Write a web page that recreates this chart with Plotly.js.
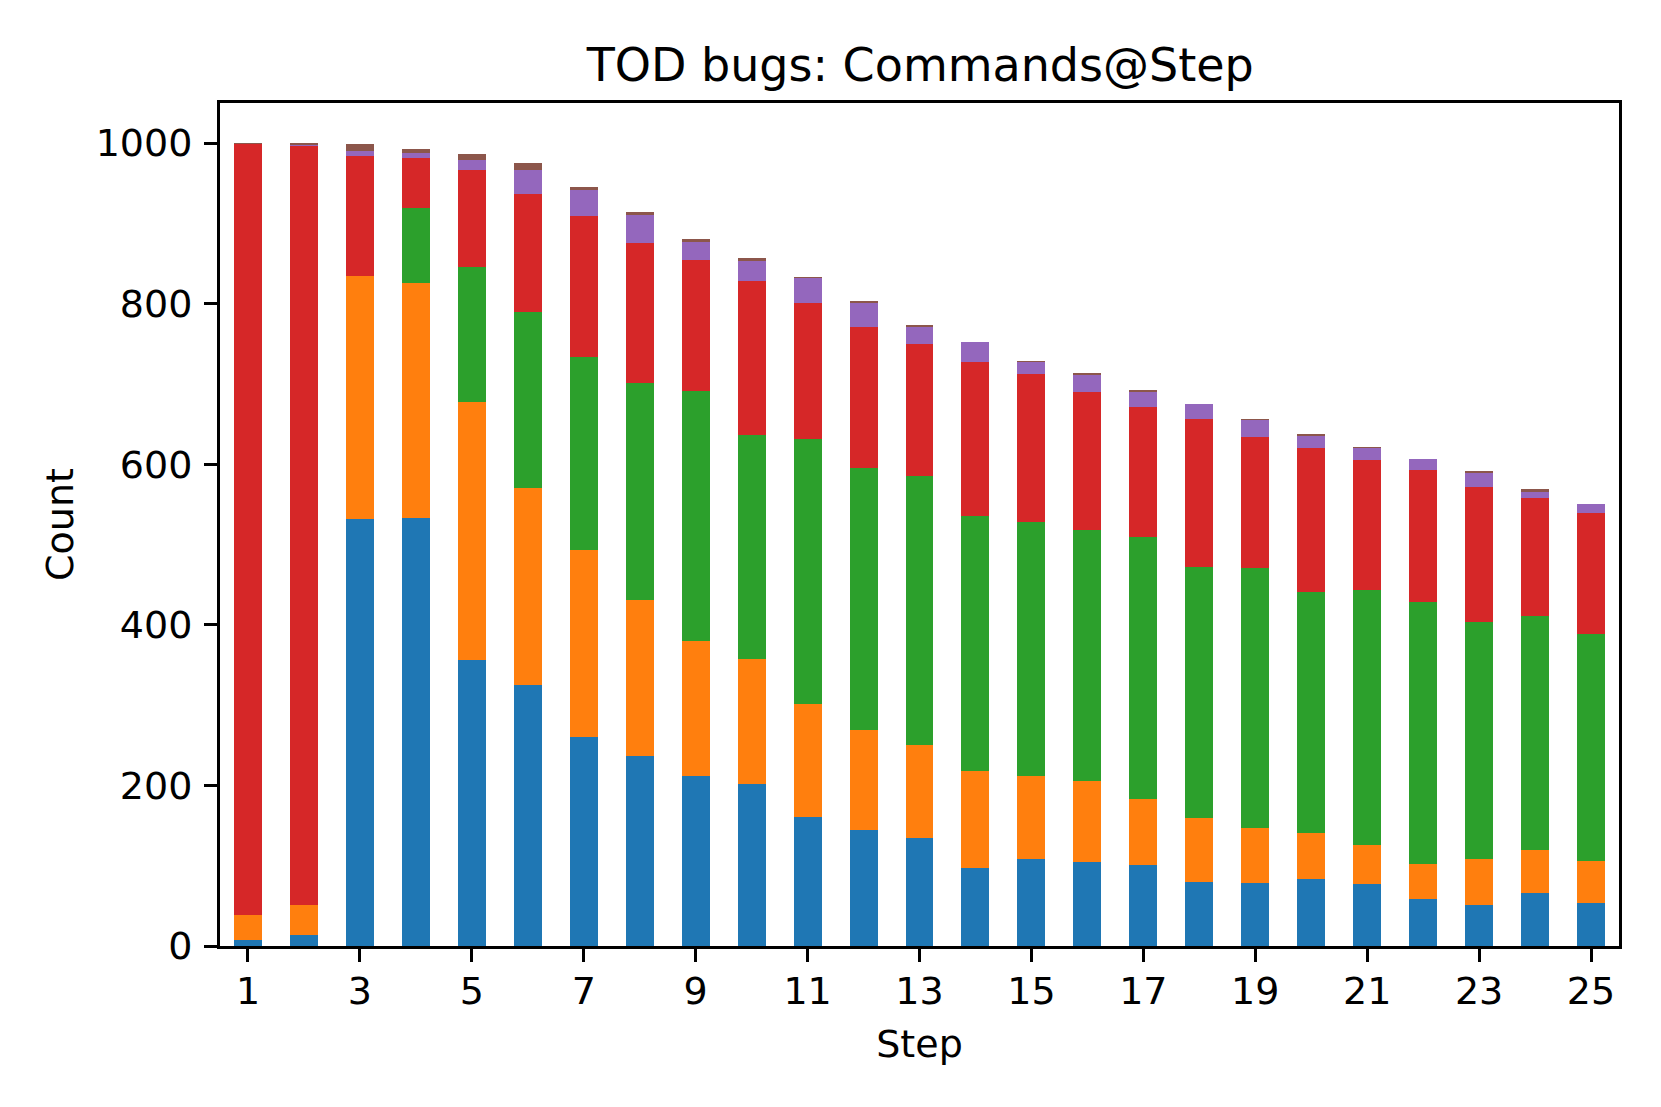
<!DOCTYPE html>
<html>
<head>
<meta charset="utf-8">
<script src="https://cdn.plot.ly/plotly-3.0.1.min.js"></script>
<style>html,body{margin:0;padding:0;background:#fff;}#chart{width:1661px;height:1107px;}</style>
</head>
<body>
<div id="chart"></div>
<script>
// Steps (x categories)
const steps = [1,2,3,4,5,6,7,8,9,10,11,12,13,14,15,16,17,18,19,20,21,22,23,24,25];
const tickSteps = [1,3,5,7,9,11,13,15,17,19,21,23,25];

// Stacked series (bottom to top), counts
const cmdA = [7,14,532,533,356,325,260,237,212,202,161,145,135,97,108,105,101,80,78,84,77,58,51,66,54];
const cmdB = [32,37,302,293,322,245,233,194,168,156,141,124,115,121,104,100,82,80,69,57,49,44,57,53,52];
const cmdC = [0,0,1,93,168,220,241,270,311,279,329,326,336,317,316,313,327,312,324,300,318,326,296,292,283];
const cmdD = [960,946,149,63,121,147,175,175,163,191,170,176,164,192,185,172,161,184,163,179,161,165,168,147,150];
const cmdE = [0,1,6,6,12,30,33,34,23,25,31,30,21,25,15,21,19,19,21,15,15,13,17,8,11];
const cmdF = [1,2,9,5,8,8,3,4,3,4,1,2,3,0,1,3,3,0,2,3,2,0,3,3,1];

const seriesNames = ["cmdA","cmdB","cmdC","cmdD","cmdE","cmdF"];
const seriesData = [cmdA,cmdB,cmdC,cmdD,cmdE,cmdF];
const colors = ["#1f77b4","#ff7f0e","#2ca02c","#d62728","#9467bd","#8c564b"];

const traces = seriesData.map((vals,i)=>({
  type:"bar",
  x: steps,
  y: vals,
  name: seriesNames[i],
  marker:{color:colors[i], line:{width:0}},
  hoverinfo:"x+y+name"
}));

const font = "DejaVu Sans, Verdana, sans-serif";
const layout = {
  width:1661, height:1107,
  paper_bgcolor:"#fff", plot_bgcolor:"#fff",
  margin:{l:220, r:42, t:103, b:161, pad:0},
  barmode:"stack",
  bargap:0.5,
  showlegend:false,
  font:{family:font, color:"#000", size:38},
  title:{text:"TOD bugs: Commands@Step", font:{family:font, size:46, color:"#000"},
         x:0.5540, xanchor:"center", xref:"container", y:1-65/1107, yref:"container", yanchor:"middle"},
  xaxis:{
    range:[0.5,25.5],
    tickmode:"array", tickvals:tickSteps, ticktext:tickSteps.map(String),
    ticks:"outside", ticklen:13, tickwidth:3, tickcolor:"#000",
    ticklabelstandoff:-4,
    showline:true, linewidth:3, linecolor:"#000", mirror:true,
    showgrid:false, zeroline:false,
    tickfont:{family:font, size:38, color:"#000"},
    title:{text:"Step", font:{family:font, size:38, color:"#000"}, standoff:19},
    automargin:false
  },
  yaxis:{
    range:[0,1050],
    tickmode:"array", tickvals:[0,200,400,600,800,1000],
    ticks:"outside", ticklen:13, tickwidth:3, tickcolor:"#000",
    ticklabelstandoff:4,
    showline:true, linewidth:3, linecolor:"#000", mirror:true,
    showgrid:false, zeroline:false,
    tickfont:{family:font, size:38, color:"#000"},
    title:{text:"Count", font:{family:font, size:38, color:"#000"}, standoff:11},
    automargin:false
  }
};

Plotly.newPlot("chart", traces, layout, {displayModeBar:false, staticPlot:true});
</script>
</body>
</html>
